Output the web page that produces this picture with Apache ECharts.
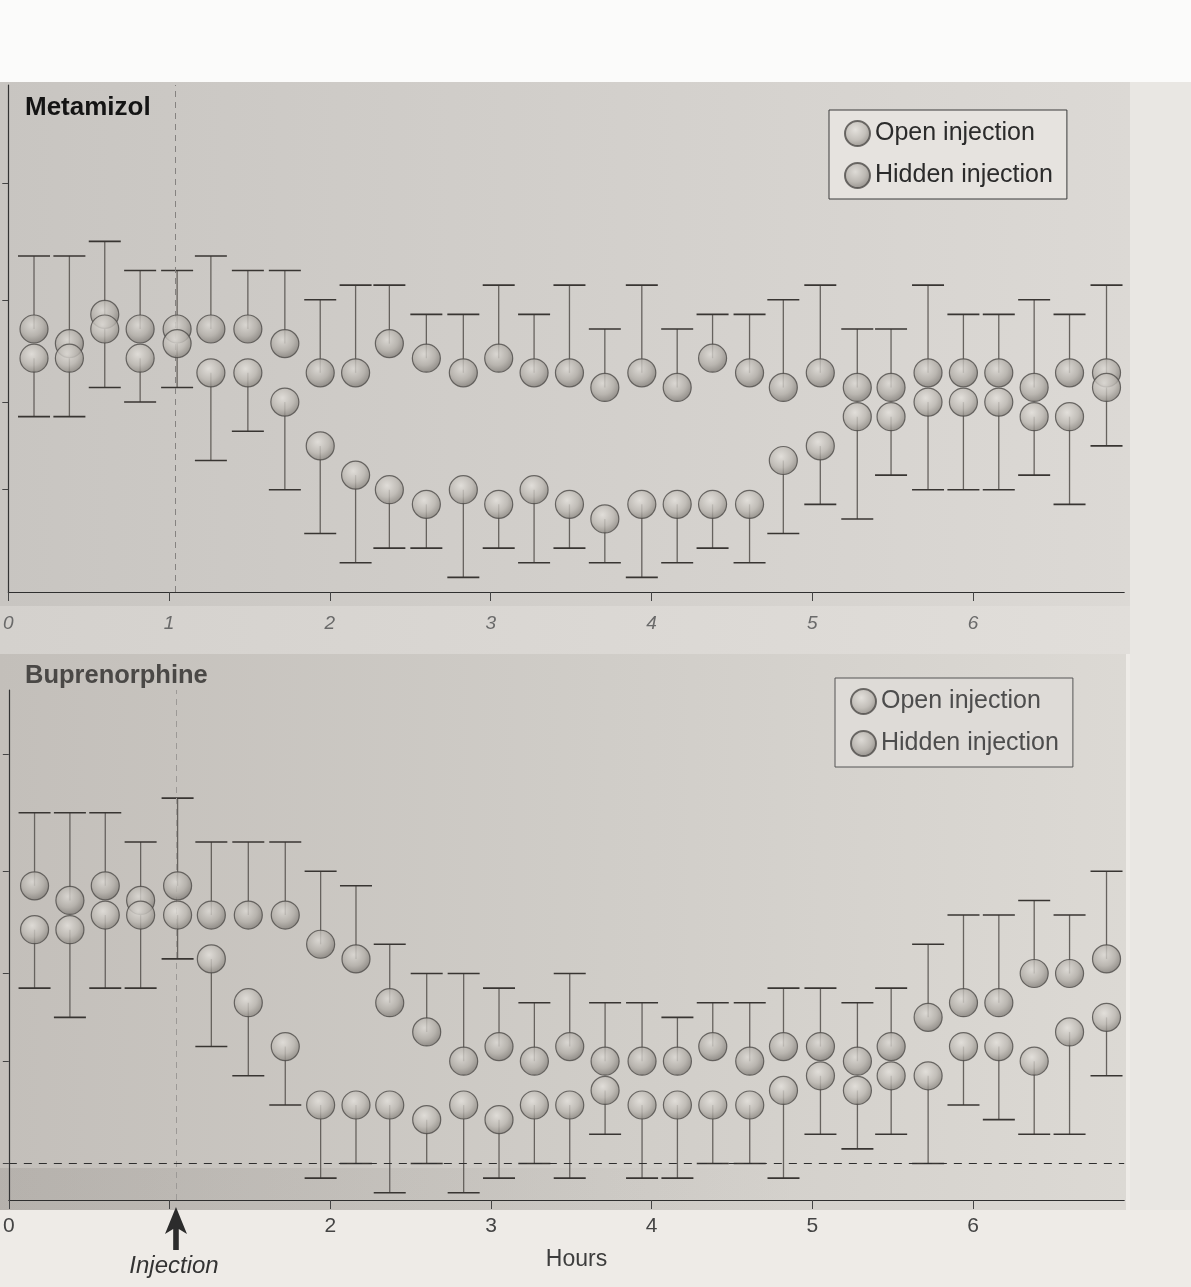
<!DOCTYPE html>
<html>
<head>
<meta charset="utf-8">
<script src="https://cdn.jsdelivr.net/npm/echarts@6/dist/echarts.min.js"></script>
<style>
html,body{margin:0;padding:0;background:#efedea;}
#c{width:1191px;height:1287px;}
</style>
</head>
<body>
<div id="c"></div>
<script>
// ---- data ----
const hours = [0.16, 0.38, 0.60, 0.82, 1.05, 1.26, 1.49, 1.72, 1.94, 2.16, 2.37, 2.60, 2.83, 3.05, 3.27, 3.49,
               3.71, 3.94, 4.16, 4.38, 4.61, 4.82, 5.05, 5.28, 5.49, 5.72, 5.94, 6.16, 6.38, 6.60, 6.83];
const hourTicks = [0, 1, 2, 3, 4, 5, 6];
const hourLabelsBottom = [0, 2, 3, 4, 5, 6];
const injectionHour = 1.04;
const yTicksTop = [7, 13, 20, 28];
const yTicksBottom = [0, 7, 13, 20, 28];

// Metamizol
const metHiddenMean = [18,17,19,18,18,18,18,17,15,15,17,16,15,16,15,15,14,15,14,16,15,14,15,14,14,15,15,15,14,15,15];
const metHiddenHigh = [23,23,24,22,22,23,22,22,20,21,21,19,19,21,19,21,18,21,18,19,19,20,21,18,18,21,19,19,20,19,21];
const metOpenMean   = [16,16,18,16,17,15,15,13,10,8,7,6,7,6,7,6,5,6,6,6,6,9,10,12,12,13,13,13,12,12,14];
const metOpenLow    = [12,12,14,13,14,9,11,7,4,2,3,3,1,3,2,3,2,1,2,3,2,4,6,5,8,7,7,7,8,6,10];

// Buprenorphine
const bupHiddenMean = [19,18,19,18,19,17,17,17,15,14,11,9,7,8,7,8,7,7,7,8,7,8,8,7,8,10,11,11,13,13,14];
const bupHiddenHigh = [24,24,24,22,25,22,22,22,20,19,15,13,13,12,11,13,11,11,10,11,11,12,12,11,12,15,17,17,18,17,20];
const bupOpenMean   = [16,16,17,17,17,14,11,8,4,4,4,3,4,3,4,4,5,4,4,4,4,5,6,5,6,6,8,8,7,9,10];
const bupOpenLow    = [12,10,12,12,14,8,6,4,-1,0,-2,0,-2,-1,0,-1,2,-1,-1,0,0,-1,2,1,2,0,4,3,2,2,6];

const legendNames = ['Open injection', 'Hidden injection'];
const panelTitles = ['Metamizol', 'Buprenorphine'];

// ---- chart ----
const FONT = 'Liberation Sans, Arial, sans-serif';
const chart = echarts.init(document.getElementById('c'), null, {renderer: 'canvas'});

function ball(light) {
  return {
    color: new echarts.graphic.RadialGradient(0.42, 0.36, 0.62, [
      {offset: 0, color: light ? '#e4e1dc' : '#dcd9d4'},
      {offset: 0.62, color: light ? '#bcb8b2' : '#b2aea8'},
      {offset: 1, color: light ? '#8e8a84' : '#85817c'}
    ]),
    borderColor: '#4e4b48',
    borderWidth: 1.2
  };
}

function errSeries(name, gi, means, ends) {
  return {
    type: 'custom', name: name, xAxisIndex: gi, yAxisIndex: gi, z: 3, silent: true,
    data: hours.map((x, i) => [x, means[i], ends[i]]),
    encode: {x: 0, y: [1, 2]},
    renderItem: function (params, api) {
      const p1 = api.coord([api.value(0), api.value(1)]);
      const p2 = api.coord([api.value(0), api.value(2)]);
      const h = 16;
      return {
        type: 'group',
        children: [
          {type: 'line', shape: {x1: p1[0], y1: p1[1], x2: p2[0], y2: p2[1]},
           style: {stroke: '#66625e', lineWidth: 1.3}},
          {type: 'line', shape: {x1: p2[0] - h, y1: p2[1], x2: p2[0] + h, y2: p2[1]},
           style: {stroke: '#383532', lineWidth: 1.6}}
        ]
      };
    }
  };
}

function ballSeries(name, gi, means, light, extra) {
  return Object.assign({
    type: 'scatter', name: name, xAxisIndex: gi, yAxisIndex: gi, z: 5,
    symbol: 'circle', symbolSize: 28,
    emphasis: {disabled: true},
    itemStyle: ball(light),
    data: hours.map((x, i) => [x, means[i]])
  }, extra || {});
}

function xAxisCfg(gi, labelVals, italic, margin, size, color) {
  return {
    gridIndex: gi, type: 'value', min: 0, max: 6.94,
    axisLine: {show: true, onZero: false, lineStyle: {color: '#2f2f2f', width: 1.2}},
    axisTick: {show: true, customValues: hourTicks, length: 9, lineStyle: {color: '#444', width: 1}},
    axisLabel: {customValues: labelVals, margin: margin, fontSize: size, fontFamily: FONT,
                fontStyle: italic ? 'italic' : 'normal', color: color},
    splitLine: {show: false}
  };
}

function yAxisCfg(gi, min, max, ticks) {
  return {
    gridIndex: gi, type: 'value', min: min, max: max,
    axisLine: {show: true, onZero: false, lineStyle: {color: '#333', width: 1.2}},
    axisTick: {show: true, customValues: ticks, length: 6, lineStyle: {color: '#444'}},
    axisLabel: {show: false},
    splitLine: {show: false}
  };
}

const legendBase = {
  orient: 'vertical', data: legendNames, selectedMode: false, icon: 'circle',
  itemWidth: 25, itemHeight: 25, borderWidth: 1, borderColor: '#3a3a3a'
};

function backgrounds() {
  const lg = (stops) => new echarts.graphic.LinearGradient(0, 0, 1, 0, stops);
  return [
    {type: 'rect', id: 'bgPage', z: -100, shape: {x: 0, y: 0, width: 1191, height: 1287}, style: {fill: '#eeebe7'}},
    {type: 'rect', id: 'bgTopWhite', z: -99, shape: {x: 0, y: 0, width: 1191, height: 82}, style: {fill: '#fbfbfa'}},
    {type: 'rect', id: 'bgTop', z: -99, shape: {x: 0, y: 82, width: 1130, height: 524},
     style: {fill: lg([{offset: 0, color: '#c8c5c1'}, {offset: 0.5, color: '#d2cfcb'}, {offset: 1, color: '#dcd9d5'}])}},
    {type: 'rect', id: 'bgMid', z: -99, shape: {x: 0, y: 606, width: 1130, height: 48},
     style: {fill: lg([{offset: 0, color: '#d4d1cd'}, {offset: 1, color: '#e1deda'}])}},
    {type: 'rect', id: 'bgBot', z: -99, shape: {x: 0, y: 654, width: 1126, height: 556},
     style: {fill: lg([{offset: 0, color: '#c3bfba'}, {offset: 0.5, color: '#cfccc7'}, {offset: 1, color: '#dcd9d4'}])}},
    {type: 'rect', id: 'bgBotShade', z: -98, shape: {x: 0, y: 1168, width: 800, height: 42},
     style: {fill: lg([{offset: 0, color: 'rgba(120,115,110,0.18)'}, {offset: 1, color: 'rgba(120,115,110,0)'}])}},
    {type: 'rect', id: 'bgRight', z: -99, shape: {x: 1130, y: 82, width: 61, height: 1128}, style: {fill: '#e9e7e3'}}
  ];
}

const option = {
  backgroundColor: '#eeebe7',
  animation: false,
  textStyle: {fontFamily: FONT},
  title: [
    {text: panelTitles[0], left: 25, top: 95, padding: 0,
     textStyle: {fontSize: 26, fontWeight: 'bold', color: '#141414', fontFamily: FONT}},
    {text: panelTitles[1], left: 25, top: 663, padding: 0,
     textStyle: {fontSize: 25.5, fontWeight: 'bold', color: '#4a4846', fontFamily: FONT}}
  ],
  legend: [
    Object.assign({}, legendBase, {left: 829, top: 110, padding: [10, 14, 10, 15], itemGap: 15,
      backgroundColor: '#e6e3df',
      textStyle: {fontSize: 25, color: '#2b2b2b', fontFamily: FONT}}),
    Object.assign({}, legendBase, {left: 835, top: 678, padding: [10, 14, 10, 15], itemGap: 15,
      backgroundColor: '#dedbd7', borderColor: '#555',
      textStyle: {fontSize: 25, color: '#4d4d4d', fontFamily: FONT}})
  ],
  grid: [
    {left: 5.5, top: 85, width: 1118.7, height: 507},
    {left: 5.5, top: 690, width: 1118.7, height: 510}
  ],
  xAxis: [
    xAxisCfg(0, hourTicks, true, 22, 19, '#6a6a6a'),
    Object.assign(xAxisCfg(1, hourLabelsBottom, false, 16, 21, '#444'), {
      name: 'Hours', nameLocation: 'middle', nameGap: 48,
      nameTextStyle: {fontSize: 23, color: '#3d3d3d', fontFamily: FONT, padding: [0, 0, 0, 20]}
    })
  ],
  yAxis: [
    yAxisCfg(0, 0, 34.7, yTicksTop),
    yAxisCfg(1, -2.5, 32.4, yTicksBottom)
  ],
  graphic: backgrounds(),
  series: [
    // Metamizol
    errSeries('Hidden injection SD (Metamizol)', 0, metHiddenMean, metHiddenHigh),
    errSeries('Open injection SD (Metamizol)', 0, metOpenMean, metOpenLow),
    ballSeries('Hidden injection', 0, metHiddenMean, false, {
      markLine: {silent: true, symbol: 'none', label: {show: false},
        lineStyle: {type: [6, 5], color: '#858280', width: 1},
        data: [{xAxis: injectionHour}]}
    }),
    ballSeries('Open injection', 0, metOpenMean, true),
    // Buprenorphine
    errSeries('Hidden injection SD (Buprenorphine)', 1, bupHiddenMean, bupHiddenHigh),
    errSeries('Open injection SD (Buprenorphine)', 1, bupOpenMean, bupOpenLow),
    ballSeries('Hidden injection', 1, bupHiddenMean, false, {
      markLine: {silent: true, symbol: 'none', label: {show: false},
        data: [
          {xAxis: injectionHour, lineStyle: {type: [6, 5], color: '#9c9996', width: 1}},
          {yAxis: 0, lineStyle: {type: [8, 7], color: '#2e2e2e', width: 1.2}}
        ]}
    }),
    ballSeries('Open injection', 1, bupOpenMean, true)
  ]
};

chart.setOption(option);

// injection arrow under the bottom axis, positioned through the axis scale
const base = chart.convertToPixel({gridIndex: 1}, [injectionHour, -2.5]);
const ax = base[0], ay = base[1];
const g = backgrounds().concat([
  {type: 'polygon', id: 'arrow', z: 10,
   shape: {points: [[ax, ay + 7], [ax - 11, ay + 34], [ax - 2.8, ay + 29], [ax - 2.8, ay + 50],
                    [ax + 2.8, ay + 50], [ax + 2.8, ay + 29], [ax + 11, ay + 34]]},
   style: {fill: '#2c2c2c'}},
  {type: 'text', id: 'injText', z: 10,
   style: {text: 'Injection', x: ax - 2, y: ay + 66, align: 'center', verticalAlign: 'middle',
            font: 'italic 24px ' + FONT, fill: '#333'}}
]);
chart.setOption({graphic: g});
</script>
</body>
</html>
